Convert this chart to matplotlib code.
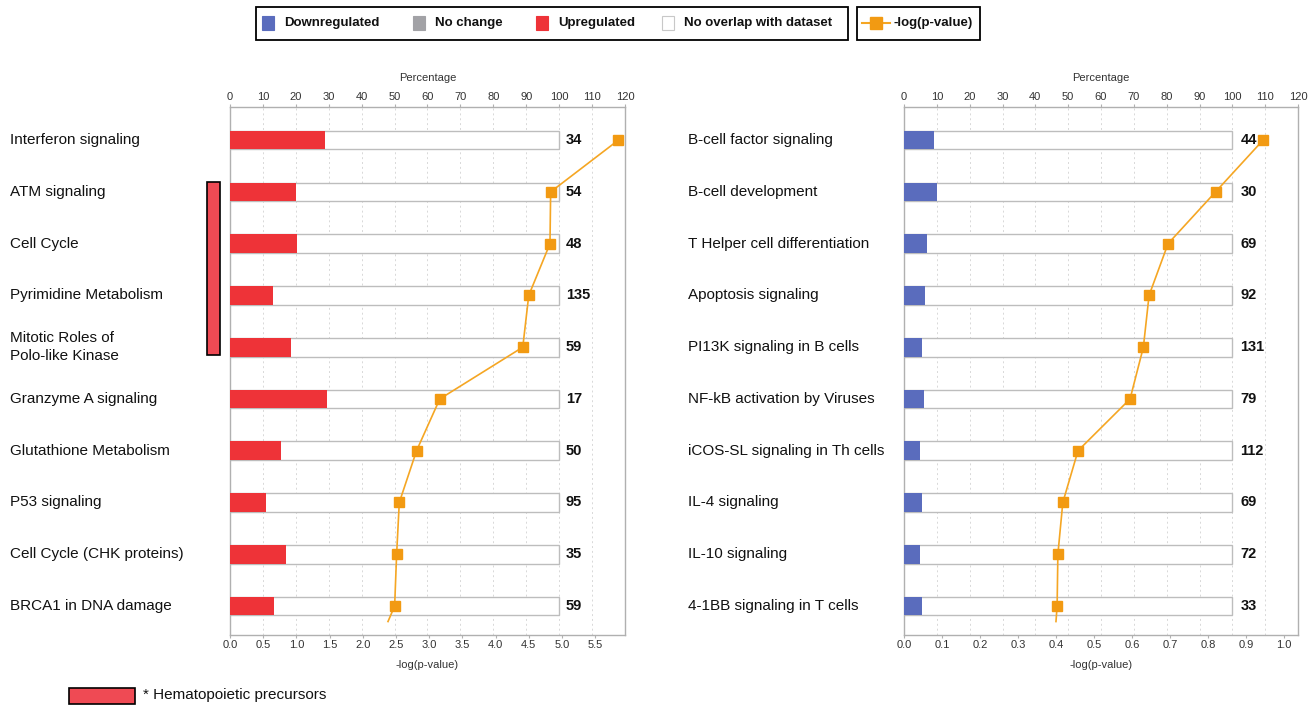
import matplotlib
matplotlib.use("Agg")
import matplotlib.pyplot as plt
from matplotlib.patches import Rectangle
from matplotlib.lines import Line2D
import numpy as np

plt.rcParams['font.family'] = ['Liberation Sans', 'DejaVu Sans']

# ---- data ----
left_pathways = ["Interferon signaling", "ATM signaling", "Cell Cycle",
                 "Pyrimidine Metabolism", "Mitotic Roles of\nPolo-like Kinase",
                 "Granzyme A signaling", "Glutathione Metabolism", "P53 signaling",
                 "Cell Cycle (CHK proteins)", "BRCA1 in DNA damage"]
left_percent_up = [29, 20, 20.5, 13, 18.5, 29.5, 15.5, 11, 17, 13.5]
left_counts = [34, 54, 48, 135, 59, 17, 50, 95, 35, 59]
left_logp = [5.85, 4.83, 4.82, 4.5, 4.41, 3.16, 2.81, 2.55, 2.51, 2.48]
left_logp_tail = 2.38

right_pathways = ["B-cell factor signaling", "B-cell development",
                  "T Helper cell differentiation", "Apoptosis signaling",
                  "PI13K signaling in B cells", "NF-kB activation by Viruses",
                  "iCOS-SL signaling in Th cells", "IL-4 signaling", "IL-10 signaling",
                  "4-1BB signaling in T cells"]
right_percent_down = [9, 10, 7, 6.5, 5.5, 6, 5, 5.5, 5, 5.5]
right_counts = [44, 30, 69, 92, 131, 79, 112, 69, 72, 33]
right_logp = [0.945, 0.82, 0.695, 0.645, 0.63, 0.595, 0.458, 0.418, 0.405, 0.403]
right_logp_tail = 0.40

legend_labels = ["Downregulated", "No change", "Upregulated", "No overlap with dataset"]
pct_ticks = list(range(0, 121, 10))
left_logp_ticks = [0.0, 0.5, 1.0, 1.5, 2.0, 2.5, 3.0, 3.5, 4.0, 4.5, 5.0, 5.5]
right_logp_ticks = [0.0, 0.1, 0.2, 0.3, 0.4, 0.5, 0.6, 0.7, 0.8, 0.9, 1.0]

# ---- style ----
RED = "#EE3338"
BLUE = "#5A6CBD"
GRAY = "#A2A2A6"
ORANGE = "#F5A623"
MARKER = "#F29A12"
SPINE = "#B0B0B0"
TICKTXT = "#333333"

W, H = 1313, 705
fig = plt.figure(figsize=(W / 100, H / 100), dpi=100)

AX_TOP, AX_BOTTOM = 107, 635


def fx(px):
    return px / W


def fy(py):
    return 1 - py / H


def panel(left_px, right_px, names, pct, counts, logp, tail, color,
          logp_max, logp_ticks, tick_fmt, label_x_px, count_family, count_offset):
    ax = fig.add_axes([fx(left_px), fy(AX_BOTTOM), fx(right_px - left_px), fy(AX_TOP) - fy(AX_BOTTOM)])
    ax2 = ax.twiny()
    n = len(names)
    rows = np.arange(n)
    ylim = (n - 0.44, -0.64)

    # percentage axis on top (bars)
    ax.set_ylim(*ylim)
    ax.set_xlim(0, 120)
    ax.xaxis.tick_top()
    ax.xaxis.set_label_position('top')
    ax.set_xticks(pct_ticks)
    ax.set_xticklabels([str(t) for t in pct_ticks])
    ax.set_xlabel("Percentage", fontsize=8, color=TICKTXT, labelpad=8)
    ax.tick_params(axis='x', which='both', labelsize=8, colors=SPINE,
                   labelcolor=TICKTXT, length=2, pad=1.5, top=True, bottom=False,
                   labeltop=True, labelbottom=False)
    ax.set_yticks([])
    ax.grid(axis='x', linestyle=(0, (2, 3)), color="#D8D8D8", linewidth=0.7)
    ax.set_axisbelow(True)
    for s in ax.spines.values():
        s.set_color(SPINE)
        s.set_linewidth(1.0)
    ax.barh(rows, [100] * n, height=0.36, color="white", edgecolor="#BDBDBD", linewidth=1.0, zorder=2)
    ax.barh(rows, pct, height=0.36, color=color, edgecolor="none", zorder=3)
    for r, c in zip(rows, counts):
        ax.text(count_offset, r, str(c), ha='left', va='center', fontsize=10.5,
                fontweight='bold', family=count_family, color="#111111", zorder=4)

    # -log(p-value) axis on the bottom (line)
    ax2.set_xlim(0, logp_max)
    ax2.set_ylim(*ylim)
    ax2.xaxis.tick_bottom()
    ax2.xaxis.set_label_position('bottom')
    ax2.set_xticks(logp_ticks)
    ax2.set_xticklabels([tick_fmt.format(t) for t in logp_ticks])
    ax2.set_xlabel("-log(p-value)", fontsize=8, color=TICKTXT, labelpad=7)
    ax2.tick_params(axis='x', labelsize=8, colors=SPINE, labelcolor=TICKTXT, length=2, pad=1.5,
                    top=False, bottom=True, labeltop=False, labelbottom=True)
    for s in ax2.spines.values():
        s.set_visible(False)
    ax2.plot(list(logp) + [tail], list(rows) + [n - 0.7], color=ORANGE, linewidth=1.2, zorder=5)
    ax2.plot(logp, rows, linestyle='none', marker='s', markersize=6.5,
             markerfacecolor=MARKER, markeredgecolor=MARKER, zorder=6)

    # pathway names
    for r, name in zip(rows, names):
        ypx = ax.transData.transform((0, r))[1]
        fig.text(fx(label_x_px), ypx / (fig.dpi * fig.get_size_inches()[1]), name,
                 ha='left', va='center', fontsize=11, color="#111111", linespacing=1.35)
    return ax


panel(230, 625, left_pathways, left_percent_up, left_counts, left_logp, left_logp_tail, RED,
      5.95, left_logp_ticks, "{:.1f}", 10, ['Liberation Sans', 'DejaVu Sans'], 102)
panel(904, 1298, right_pathways, right_percent_down, right_counts, right_logp, right_logp_tail, BLUE,
      1.037, right_logp_ticks, "{:.1f}", 688, ['Liberation Sans Narrow', 'Liberation Sans', 'DejaVu Sans'], 102.5)

# group bracket for hematopoietic precursors
fig.patches.append(Rectangle((fx(207), fy(355)), fx(13), fy(182) - fy(355), transform=fig.transFigure,
                             facecolor="#EF4A54", edgecolor="black", linewidth=1.2))
fig.patches.append(Rectangle((fx(69), fy(704)), fx(66), fy(688) - fy(704), transform=fig.transFigure,
                             facecolor="#EF4A54", edgecolor="black", linewidth=1.2))
fig.text(fx(143), fy(695), "* Hematopoietic precursors", ha='left', va='center', fontsize=11, color="#111111")

# top legend
fig.patches.append(Rectangle((fx(256), fy(40)), fx(592), fy(7) - fy(40), transform=fig.transFigure,
                             facecolor="white", edgecolor="black", linewidth=1.3))
fig.patches.append(Rectangle((fx(857), fy(40)), fx(123), fy(7) - fy(40), transform=fig.transFigure,
                             facecolor="white", edgecolor="black", linewidth=1.3))
swatch_colors = [BLUE, GRAY, RED, "white"]
swatch_x = [262, 413, 536, 662]
for label, col, sx in zip(legend_labels, swatch_colors, swatch_x):
    fig.patches.append(Rectangle((fx(sx), fy(30)), fx(12), fy(16) - fy(30), transform=fig.transFigure,
                                 facecolor=col, edgecolor="#C8C8C8" if col == "white" else col, linewidth=0.8))
    fig.text(fx(sx + 22), fy(23), label, ha='left', va='center', fontsize=9.5, fontweight='bold', color="#111111")
fig.lines.append(Line2D([fx(862), fx(890)], [fy(23), fy(23)], transform=fig.transFigure,
                        color=ORANGE, linewidth=1.5))
fig.lines.append(Line2D([fx(876)], [fy(23)], transform=fig.transFigure, linestyle='none', marker='s',
                        markersize=8, markerfacecolor=MARKER, markeredgecolor=MARKER))
fig.text(fx(893), fy(23), "-log(p-value)", ha='left', va='center', fontsize=9.5, fontweight='bold', color="#111111")

fig.savefig("out.png", dpi=100)
